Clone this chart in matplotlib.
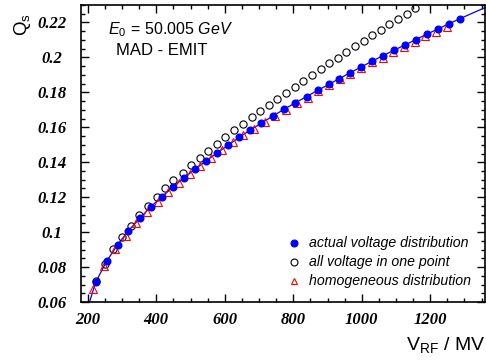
import matplotlib
matplotlib.use("Agg")
import matplotlib.pyplot as plt
from matplotlib.ticker import MultipleLocator, FixedLocator
from matplotlib.font_manager import FontProperties

plt.rcParams["mathtext.fontset"] = "custom"
plt.rcParams["mathtext.rm"] = "Liberation Sans"
plt.rcParams["mathtext.it"] = "Liberation Sans:italic"
plt.rcParams["font.family"] = "Liberation Sans"

# actual voltage distribution (filled blue)
actual_v = [223, 255, 287, 318, 352, 384, 416, 448, 480, 513, 545, 577, 610, 642,
            674, 707, 740, 773, 806, 839, 871, 903, 935, 966, 998, 1029, 1061,
            1093, 1126, 1158, 1190, 1223, 1255, 1287]
actual_q = [0.0714, 0.0834, 0.0928, 0.1007, 0.1080, 0.1145, 0.1203, 0.1257, 0.1310,
            0.1360, 0.1407, 0.1453, 0.1498, 0.1542, 0.1584, 0.1624, 0.1664, 0.1703,
            0.1740, 0.1776, 0.1811, 0.1845, 0.1879, 0.1912, 0.1945, 0.1977, 0.2009,
            0.2040, 0.2071, 0.2102, 0.2133, 0.2163, 0.2193, 0.2222]

# all voltage in one point (open circles)
onept_v = [224, 250, 273, 299, 325, 350, 375, 401, 425, 450, 477, 501, 527, 551,
           577, 602, 627, 653, 678, 702, 728, 753, 779, 804, 829, 854, 880, 905,
           930, 955, 981, 1006, 1030, 1056, 1081, 1107, 1131, 1155]
onept_q = [0.0720, 0.0815, 0.0903, 0.0973, 0.1036, 0.1097, 0.1150, 0.1202, 0.1250,
           0.1297, 0.1340, 0.1383, 0.1427, 0.1465, 0.1507, 0.1545, 0.1583, 0.1621,
           0.1659, 0.1693, 0.1730, 0.1764, 0.1798, 0.1833, 0.1867, 0.1901, 0.1934,
           0.1966, 0.1998, 0.2030, 0.2063, 0.2093, 0.2126, 0.2158, 0.2189, 0.2219,
           0.2250, 0.2282]

# homogeneous distribution (red triangles)
homog_v = [216, 247, 279, 310, 341, 373, 404, 435, 466, 498, 529, 560, 592, 623,
           654, 686, 717, 748, 779, 811, 842, 873, 905, 936, 967, 999, 1030, 1061,
           1092, 1124, 1155, 1186, 1218, 1249]
homog_q = [0.0673, 0.0806, 0.0901, 0.0979, 0.1053, 0.1116, 0.1173, 0.1230, 0.1283,
           0.1333, 0.1377, 0.1427, 0.1469, 0.1513, 0.1554, 0.1593, 0.1630, 0.1667,
           0.1697, 0.1739, 0.1770, 0.1806, 0.1840, 0.1874, 0.1907, 0.1941, 0.1971,
           0.1998, 0.2030, 0.2059, 0.2091, 0.2120, 0.2145, 0.2173]

# fitted curve ends
curve_v = [205] + actual_v + [1360]
curve_q = [0.0600] + actual_q + [0.2285]

x_ticks = [200, 400, 600, 800, 1000, 1200]
y_ticks = [0.06, 0.08, 0.1, 0.12, 0.14, 0.16, 0.18, 0.2, 0.22]
y_labels = ["0.06", "0.08", "0.1", "0.12", "0.14", "0.16", "0.18", "0.2", "0.22"]

fig = plt.figure(figsize=(4.86, 3.62), dpi=100)
ax = fig.add_axes([81 / 486, 1 - 302 / 362, 404 / 486, 297 / 362])

ax.plot(curve_v, curve_q, color="blue", lw=0.9, zorder=2)
ax.plot(actual_v, actual_q, "o", color="blue", ms=4.8, mec="blue", zorder=4)
ax.plot(onept_v, onept_q, "o", mfc="none", mec="black", ms=5.2, mew=0.8,
        zorder=3, clip_on=False)
ax.plot(homog_v, homog_q, "^", mfc="none", mec="red", ms=5.4, mew=0.8, zorder=3)

ax.set_xlim(180, 1360)
ax.set_ylim(0.06, 0.23)

ax.xaxis.set_major_locator(FixedLocator(x_ticks))
ax.xaxis.set_minor_locator(MultipleLocator(50))
ax.yaxis.set_major_locator(FixedLocator(y_ticks))
ax.yaxis.set_minor_locator(MultipleLocator(0.005))
ax.set_yticklabels(y_labels)

tick_font = FontProperties(family="Liberation Serif", weight="bold", style="italic", size=12)
for lab in ax.get_xticklabels():
    lab.set_fontproperties(tick_font)
for lab in ax.get_yticklabels():
    lab.set_fontproperties(tick_font)
    lab.set_horizontalalignment("center")

ax.tick_params(which="both", direction="in", top=True, right=True, width=1.0)
ax.tick_params(which="major", length=5.5)
ax.tick_params(which="minor", length=2.8)
ax.tick_params(axis="y", which="major", pad=21)
ax.tick_params(axis="x", which="major", pad=7.5)
for s in ax.spines.values():
    s.set_linewidth(1.2)

fig.text(0.999, 1 - 350 / 362, r"V$_{\rm RF}$ / MV", ha="right", va="baseline", fontsize=14)
fig.text(22.5 / 486, 1 - 13 / 362, r"Q$_{\rm s}$", rotation=90, ha="center", va="top", fontsize=13.5)

fig.text(108 / 486, 1 - 34 / 362, r"$E_0\,=\,\mathit{50.005\ GeV}$", fontsize=11.5,
         ha="left", va="baseline")
fig.text(116 / 486, 1 - 55 / 362, "MAD - EMIT", fontsize=12, ha="left", va="baseline")

# legend drawn by hand, ROOT style
leg_marks = [("o", "blue", "blue"), ("o", "none", "black"), ("^", "none", "red")]
leg_text = ["actual voltage distribution", "all voltage in one point", "homogeneous distribution"]
leg_y = [243, 262, 281]
for (m, fc, ec), t, yy in zip(leg_marks, leg_text, leg_y):
    fy = 1 - yy / 362
    fig.lines.append(plt.Line2D([294 / 486], [fy], marker=m, mfc=fc, mec=ec,
                                ms=5.0, mew=0.8, transform=fig.transFigure))
    fig.text(309 / 486, fy, t, fontsize=10.2, style="italic", ha="left", va="center")

fig.savefig("out.png", dpi=100)
